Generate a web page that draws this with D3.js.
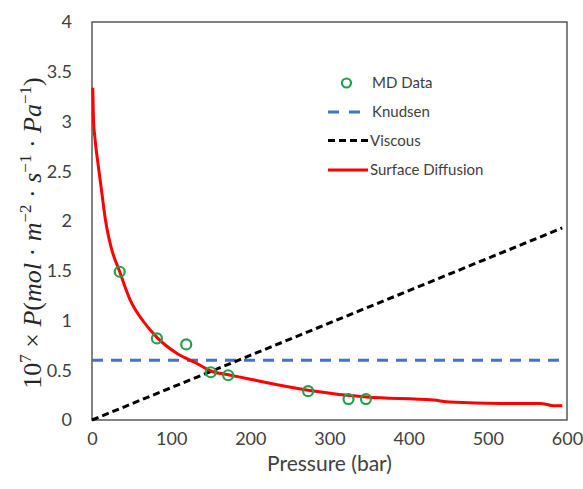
<!DOCTYPE html>
<html lang="en">
<head>
    <meta charset="UTF-8">
    <title>Permeance vs Pressure</title>
    <script src="https://d3js.org/d3.v7.min.js"></script>
    <style>
        body { margin: 0; background: #fff; }
        text { font-family: Lato, "Open Sans", sans-serif; fill: #404040; }
    </style>
</head>
<body>
    <svg width="583" height="489"></svg>

    <script>
        // MD simulation points (pressure in bar, 10^7 x permeance)
        const mdPressure = [35, 82, 119, 150, 172, 273, 324, 346];
        const mdValue = [1.49, 0.82, 0.76, 0.48, 0.45, 0.29, 0.21, 0.21];

        // Surface diffusion curve
        const sdPressure = [1, 2, 3.5, 8, 12, 17, 24, 35, 48, 65, 82, 107, 132, 151, 172, 200, 212, 273, 347, 431, 452, 516, 566, 583, 594];
        const sdValue = [3.34, 3.0, 2.85, 2.55, 2.31, 2.01, 1.74, 1.49, 1.21, 0.99, 0.83, 0.67, 0.57, 0.49, 0.455, 0.41, 0.39, 0.30, 0.23, 0.20, 0.18, 0.167, 0.167, 0.144, 0.144];

        // Knudsen (constant) and viscous (linear) lines
        const knudsenPressure = [0, 600];
        const knudsenValue = [0.6, 0.6];
        const viscousPressure = [0, 594];
        const viscousValue = [0, 1.93];

        const xTicks = [0, 100, 200, 300, 400, 500, 600];
        const yTicks = [0, 0.5, 1, 1.5, 2, 2.5, 3, 3.5, 4];

        const legendLabels = ["MD Data", "Knudsen", "Viscous", "Surface Diffusion"];

        const margin = { top: 22, right: 16, bottom: 69, left: 92 },
              width = 583 - margin.left - margin.right,
              height = 489 - margin.top - margin.bottom;

        const svg = d3.select("svg")
                      .append("g")
                      .attr("transform", `translate(${margin.left},${margin.top})`);

        const x = d3.scaleLinear().domain([0, 600]).range([0, width]);
        const y = d3.scaleLinear().domain([0, 4]).range([height, 0]);

        // Plot border
        svg.append("rect")
           .attr("width", width)
           .attr("height", height)
           .attr("fill", "none")
           .attr("stroke", "#595959")
           .attr("stroke-width", 1.5);

        // X axis (no tick marks, only labels)
        const xAxis = svg.append("g")
           .attr("transform", `translate(0,${height})`)
           .call(d3.axisBottom(x).tickValues(xTicks).tickSize(0).tickPadding(12).tickFormat(d3.format("d")));
        xAxis.select(".domain").remove();
        xAxis.selectAll("text").style("font-size", "18px").attr("fill", "#404040");

        // Y axis
        const yAxis = svg.append("g")
           .call(d3.axisLeft(y).tickValues(yTicks).tickSize(0).tickPadding(20).tickFormat(d => d));
        yAxis.select(".domain").remove();
        yAxis.selectAll("text").style("font-size", "18px").attr("fill", "#404040");

        // Axis titles
        svg.append("text")
           .attr("x", width / 2)
           .attr("y", height + 51)
           .attr("text-anchor", "middle")
           .style("font-size", "21px")
           .text("Pressure (bar)");

        const yTitle = svg.append("text")
           .attr("transform", `translate(-51,${height / 2 + 12}) rotate(-90)`)
           .attr("text-anchor", "middle")
           .style("font-family", "'Liberation Serif', 'DejaVu Serif', serif")
           .style("font-size", "26px")
           .style("fill", "#262626");
        yTitle.append("tspan").text("10");
        yTitle.append("tspan").attr("dy", -10).style("font-size", "17px").text("7");
        yTitle.append("tspan").attr("dy", 10).text(" × ");
        yTitle.append("tspan").style("font-style", "italic").text("P");
        yTitle.append("tspan").text("(");
        yTitle.append("tspan").style("font-style", "italic").text("mol");
        yTitle.append("tspan").text(" · ");
        yTitle.append("tspan").style("font-style", "italic").text("m");
        yTitle.append("tspan").attr("dy", -10).style("font-size", "17px").text("−2");
        yTitle.append("tspan").attr("dy", 10).text(" · ");
        yTitle.append("tspan").style("font-style", "italic").text("s");
        yTitle.append("tspan").attr("dy", -10).style("font-size", "17px").text("−1");
        yTitle.append("tspan").attr("dy", 10).text(" · ");
        yTitle.append("tspan").style("font-style", "italic").text("Pa");
        yTitle.append("tspan").attr("dy", -10).style("font-size", "17px").text("−1");
        yTitle.append("tspan").attr("dy", 10).text(")");

        const line = d3.line()
                       .x(d => x(d[0]))
                       .y(d => y(d[1]));

        // Knudsen
        svg.append("path")
           .datum(d3.zip(knudsenPressure, knudsenValue))
           .attr("d", line)
           .attr("fill", "none")
           .attr("stroke", "#4472C4")
           .attr("stroke-width", 3)
           .attr("stroke-dasharray", "11,8");

        // Viscous
        svg.append("path")
           .datum(d3.zip(viscousPressure, viscousValue))
           .attr("d", line)
           .attr("fill", "none")
           .attr("stroke", "#000")
           .attr("stroke-width", 3)
           .attr("stroke-dasharray", "7,4");

        // Surface diffusion
        svg.append("path")
           .datum(d3.zip(sdPressure, sdValue))
           .attr("d", line.curve(d3.curveMonotoneX))
           .attr("fill", "none")
           .attr("stroke", "#FF0000")
           .attr("stroke-width", 3);

        // MD points
        svg.selectAll("circle.md")
           .data(d3.zip(mdPressure, mdValue))
           .enter()
           .append("circle")
           .attr("class", "md")
           .attr("cx", d => x(d[0]))
           .attr("cy", d => y(d[1]))
           .attr("r", 5)
           .attr("fill", "none")
           .attr("stroke", "#22A04B")
           .attr("stroke-width", 2.2);

        // Legend
        const legend = svg.append("g").attr("transform", "translate(236,0)");
        const rowY = [61, 90, 118.5, 148];

        legend.append("circle")
              .attr("cx", 18.5).attr("cy", rowY[0]).attr("r", 4.5)
              .attr("fill", "none").attr("stroke", "#22A04B").attr("stroke-width", 2.2);
        legend.append("line")
              .attr("x1", 0).attr("x2", 32).attr("y1", rowY[1]).attr("y2", rowY[1])
              .attr("stroke", "#4472C4").attr("stroke-width", 3).attr("stroke-dasharray", "11,10");
        legend.append("line")
              .attr("x1", 0).attr("x2", 40).attr("y1", rowY[2]).attr("y2", rowY[2])
              .attr("stroke", "#000").attr("stroke-width", 3).attr("stroke-dasharray", "7,4");
        legend.append("line")
              .attr("x1", 0).attr("x2", 40).attr("y1", rowY[3]).attr("y2", rowY[3])
              .attr("stroke", "#FF0000").attr("stroke-width", 3);

        legend.selectAll("text.lbl")
              .data(legendLabels)
              .enter()
              .append("text")
              .attr("class", "lbl")
              .attr("x", (d, i) => i < 2 ? 44 : 42)
              .attr("y", (d, i) => rowY[i])
              .attr("dy", "0.35em")
              .style("font-size", "15px")
              .text(d => d);
    </script>
</body>
</html>
